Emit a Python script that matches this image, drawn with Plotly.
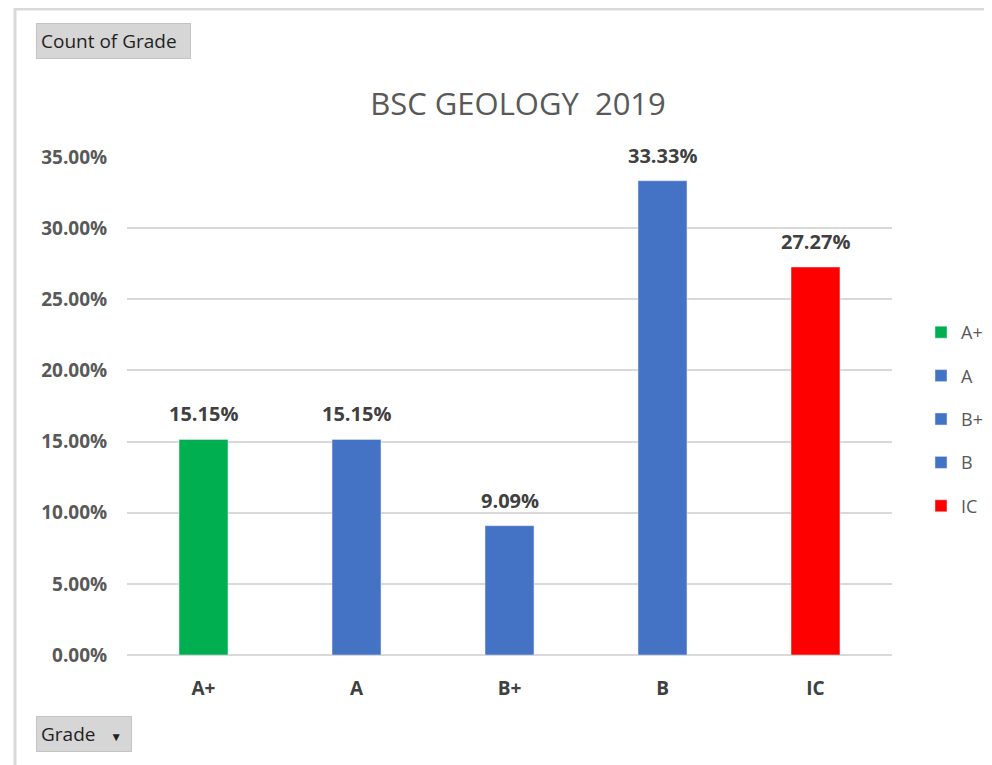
import plotly.graph_objects as go

grades = ["A+", "A", "B+", "B", "IC"]
shares = [15.15, 15.15, 9.09, 33.33, 27.27]
colors = ["#00b050", "#4472c4", "#4472c4", "#4472c4", "#ff0000"]
y_ticks = [0, 5, 10, 15, 20, 25, 30, 35]

# page body adds an 8px margin, so the figure is laid out in reference pixels minus 8
OFF = 8
W, H = 992 - OFF, 765 - OFF
L, R, T, B = 127 - OFF, 100, 157 - OFF, 110


def px_x(x):
    return (x - OFF - L) / (W - L - R)


def px_y(y):
    return (H - B - (y - OFF)) / (H - T - B)


fig = go.Figure()
for g, v, c in zip(grades, shares, colors):
    fig.add_trace(go.Bar(
        name=g,
        x=[g],
        y=[v],
        marker_color=c,
        legendgroup=g,
    ))

# value labels above the bars
labels = [
    dict(x=g, y=v, text=f"{v:.2f}%", xref="x", yref="y",
         xanchor="center", yanchor="bottom", yshift=10, showarrow=False,
         font=dict(size=20, color="#404040", family="Open Sans", weight="bold"))
    for g, v in zip(grades, shares)
]

buttons = [
    dict(text="Count of Grade  ", xref="paper", yref="paper",
         x=px_x(36), y=px_y(41), xanchor="left", yanchor="middle",
         showarrow=False, bgcolor="#d6d6d6", bordercolor="#c4c4c4",
         borderpad=4, font=dict(size=19, color="#1f1f1f")),
    dict(text="Grade   <span style='font-size:12px'>\u25bc</span> ", xref="paper", yref="paper",
         x=px_x(36), y=px_y(734), xanchor="left", yanchor="middle",
         showarrow=False, bgcolor="#d6d6d6", bordercolor="#c4c4c4",
         borderpad=4, font=dict(size=19, color="#1f1f1f")),
]

fig.update_layout(
    width=W,
    height=H,
    paper_bgcolor="white",
    plot_bgcolor="white",
    margin=dict(l=L, r=R, t=T, b=B, autoexpand=False),
    barmode="relative",
    bargap=0.68,
    font=dict(family="Open Sans", color="#595959"),
    title=dict(
        text="BSC GEOLOGY\u00a0\u00a02019",
        x=(518 - OFF) / W,
        xanchor="center",
        y=1 - (104 - OFF) / H,
        yanchor="middle",
        font=dict(size=31, color="#595959", family="Open Sans"),
    ),
    xaxis=dict(
        categoryorder="array",
        categoryarray=grades,
        showgrid=False,
        showline=False,
        ticks="outside",
        ticklen=16,
        tickcolor="white",
        tickfont=dict(size=19, color="#404040", weight="bold"),
    ),
    yaxis=dict(
        range=[0, 35],
        tickvals=y_ticks,
        ticktext=[f"{t:.2f}%" for t in y_ticks],
        gridcolor="#d9d9d9",
        gridwidth=2,
        zeroline=True,
        zerolinecolor="#d9d9d9",
        zerolinewidth=2,
        ticks="outside",
        ticklen=15,
        tickcolor="white",
        tickfont=dict(size=19, color="#595959", weight="bold"),
    ),
    legend=dict(
        x=px_x(921),
        xanchor="left",
        y=px_y(314),
        yanchor="top",
        tracegroupgap=17,
        font=dict(size=18, color="#595959"),
        itemwidth=30,
    ),
    shapes=[
        dict(type="line", xref="paper", yref="paper",
             x0=px_x(15), x1=px_x(1000), y0=px_y(9), y1=px_y(9),
             line=dict(color="#d9d9d9", width=3)),
        dict(type="line", xref="paper", yref="paper",
             x0=px_x(15), x1=px_x(15), y0=px_y(8), y1=px_y(780),
             line=dict(color="#d9d9d9", width=3)),
    ],
    annotations=labels + buttons,
)

fig.write_html("out.html")
